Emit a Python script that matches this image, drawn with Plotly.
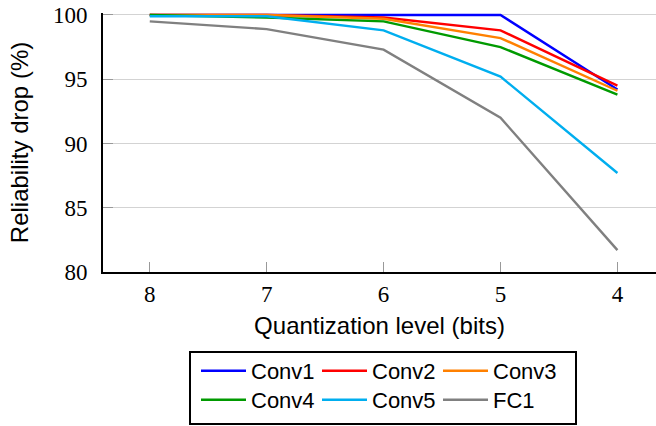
import plotly.graph_objects as go

bits = [8, 7, 6, 5, 4]
conv1 = [100.0, 100.0, 100.0, 100.0, 94.2]
conv2 = [100.0, 100.0, 99.8, 98.8, 94.5]
conv3 = [100.0, 100.0, 99.7, 98.2, 94.1]
conv4 = [100.0, 99.8, 99.5, 97.5, 93.8]
conv5 = [99.9, 99.9, 98.8, 95.2, 87.7]
fc1 = [99.5, 98.9, 97.3, 92.0, 81.7]

series = [
    ("Conv1", conv1, "#0000ff", "legend"),
    ("Conv2", conv2, "#ff0000", "legend"),
    ("Conv3", conv3, "#ff8000", "legend"),
    ("Conv4", conv4, "#009a00", "legend2"),
    ("Conv5", conv5, "#00aeef", "legend2"),
    ("FC1", fc1, "#808080", "legend2"),
]

fig = go.Figure()
for name, vals, color, lg in series:
    fig.add_trace(go.Scatter(x=bits, y=vals, mode="lines", name=name,
                             line=dict(color=color, width=2.4), legend=lg))

sans = "Liberation Sans"
serif = "Liberation Serif"

legend_common = dict(
    orientation="h", xref="container", yref="container",
    xanchor="left", yanchor="middle",
    font=dict(family=sans, size=22, color="black"),
    bgcolor="rgba(0,0,0,0)", borderwidth=0,
    entrywidth=61, entrywidthmode="pixels", itemwidth=45,
    tracegroupgap=0, itemclick=False,
)

fig.update_layout(
    width=656, height=426,
    margin=dict(l=103, r=0, t=13, b=154),
    plot_bgcolor="white", paper_bgcolor="white",
    showlegend=True,
    legend=dict(x=196 / 656, y=1 - 371 / 426, **legend_common),
    legend2=dict(x=196 / 656, y=1 - 400 / 426, **legend_common),
    xaxis=dict(
        range=[8.4, 3.67], tickvals=bits, ticktext=[str(b) for b in bits],
        showline=True, linecolor="black", linewidth=2, mirror=False,
        ticks="inside", ticklen=10, tickcolor="#999999", tickwidth=1,
        showgrid=False, zeroline=False,
        tickfont=dict(family=serif, size=23, color="black"),
        title=dict(text="Quantization level (bits)",
                   font=dict(family=sans, size=24, color="black"), standoff=12),
    ),
    yaxis=dict(
        range=[80, 100.15], tickvals=[80, 85, 90, 95, 100],
        showline=True, linecolor="black", linewidth=2, mirror=False,
        ticks="inside", ticklen=10, tickcolor="#999999", tickwidth=1,
        showgrid=True, gridcolor="#d3d3d3", gridwidth=1, zeroline=False,
        tickfont=dict(family=serif, size=23, color="black"),
        ticklabelstandoff=9,
        title=dict(text="Reliability drop (%)",
                   font=dict(family=sans, size=24, color="black"), standoff=18),
    ),
    shapes=[dict(type="rect", xref="paper", yref="paper",
                 x0=(190 - 103) / 553, x1=(576 - 103) / 553,
                 y0=(272 - 424) / 259, y1=(272 - 352) / 259,
                 line=dict(color="black", width=2), fillcolor="rgba(0,0,0,0)")],
)

fig.write_html("out.html")
